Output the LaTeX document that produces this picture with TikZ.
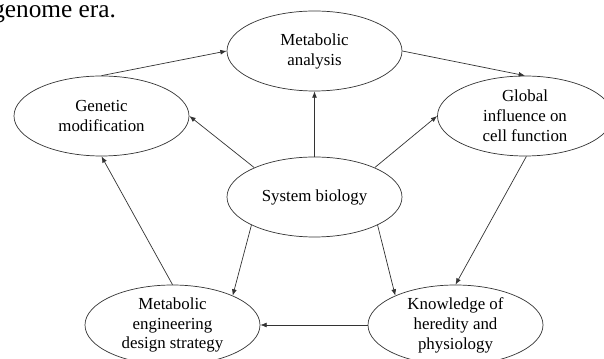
\documentclass[tikz,border=0pt]{standalone}
\usepackage{fontspec}
\setmainfont{Liberation Serif}
\usepackage{tikz}
\usetikzlibrary{arrows.meta,positioning,shapes.geometric,calc}

\begin{document}
\begin{tikzpicture}[
    blob/.style={draw=black!80,line width=0.5pt,ellipse,inner sep=0pt,minimum width=4.375cm,minimum height=2cm},
    txt/.style={align=center,font=\fontsize{12}{14.2}\selectfont,inner sep=0pt},
    arr/.style={-{Latex[length=4.5pt,width=3.5pt]},draw=black!80,line width=0.5pt}]
        \useasboundingbox (0,0) rectangle (15.1,8.95);
        \clip (0,0) rectangle (15.1,8.95);
        \node[anchor=base west,inner sep=0pt,font=\fontsize{18}{20}\selectfont] (era) at (-0.2,8.5) {genome era.};
        \node[blob,label={[txt]center:Metabolic\\analysis}] (ma) at (7.8625,7.675) {};
        \node[blob,label={[txt]center:Genetic\\modification}] (gm) at (2.5375,6.05) {};
        \node[blob,label={[txt]center:Global\\influence on\\cell function}] (gi) at (13.125,6.05) {};
        \node[blob,label={[txt]center:System biology}] (sb) at (7.8625,4.025) {};
        \node[blob,label={[txt]center:Metabolic\\engineering\\design strategy}] (me) at (4.3125,0.825) {};
        \node[blob,label={[txt]center:Knowledge of\\heredity and\\physiology}] (kh) at (11.3875,0.825) {};
        \foreach \a/\b in {gm.north/ma.west, ma.east/gi.north, sb.north/ma.south, sb.154/gm.east, sb.26/gi.west,
                sb.204/me.26, sb.336/kh.154, gi.272/kh.north, me.north/gm.south, kh.west/me.east}
        \draw[arr] (\a) -- (\b);
\end{tikzpicture}
\end{document}
